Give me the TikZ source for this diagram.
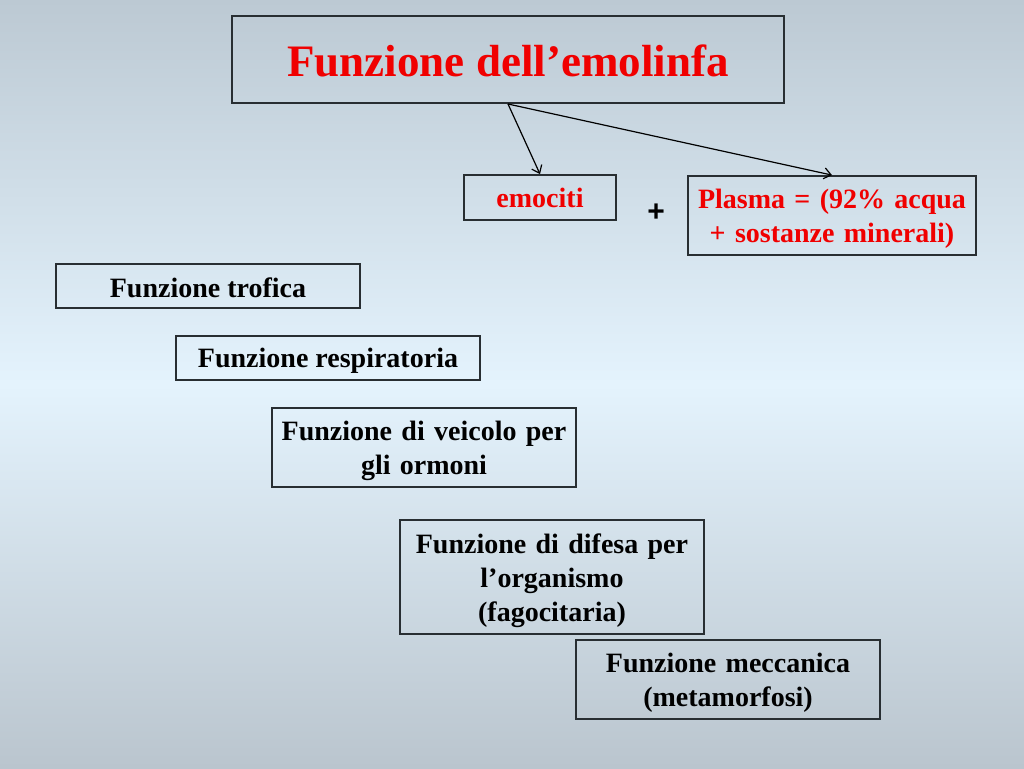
\documentclass[tikz,border=0pt]{standalone}
\usepackage{fontspec}
\usetikzlibrary{arrows.meta}
\setmainfont{Liberation Serif}
\newfontfamily\plusfont{Liberation Sans}
\definecolor{bgtop}{RGB}{188,201,211}
\definecolor{bgmid}{RGB}{228,243,253}
\definecolor{bgbot}{RGB}{186,197,206}
\definecolor{frame}{RGB}{40,46,50}
\definecolor{tred}{RGB}{240,0,0}
\newcommand{\topfix}[1]{\rule{0pt}{#1pt}}
\tikzset{
  box/.style={draw=frame, line width=1.8pt, fill=none, align=center, inner sep=2pt,
    font=\fontsize{28}{34}\selectfont\bfseries},
  redtxt/.style={text=tred},
  arr/.style={draw=black, line width=1.2pt, -{Straight Barb[length=7pt,width=11pt]}},
}
\begin{document}
\begin{tikzpicture}[x=1pt,y=-1pt]
\begin{scope}[y=1pt]
\shade[top color=bgtop, bottom color=bgmid] (0,-384) rectangle (1024,0);
\shade[top color=bgmid, bottom color=bgbot] (0,-768) rectangle (1024,-384);
\end{scope}
\useasboundingbox (0,0) rectangle (1024,768);

\node[box, redtxt, minimum width=552pt, minimum height=87pt, font=\fontsize{45}{52}\selectfont\bfseries] (title) at (508,59.5) {\topfix{35}Funzione dell’emolinfa};
\node[box, redtxt, minimum width=152pt, minimum height=45pt] (emo) at (540,197.5) {\topfix{21}emociti};
\node[box, redtxt, minimum width=288pt, minimum height=79pt, text width=280pt] (pl) at (832,215.5) {\topfix{26}Plasma = (92\% acqua\\+ sostanze minerali)};
\node[font=\fontsize{30}{34}\selectfont\plusfont\bfseries] (plus) at (656,213) {+};

\node[box, minimum width=304pt, minimum height=44pt] (tro) at (208,286) {\topfix{23}Funzione trofica};
\node[box, minimum width=304pt, minimum height=44pt] (res) at (328,358) {\topfix{25}Funzione respiratoria};
\node[box, minimum width=304pt, minimum height=79pt, text width=296pt] (vei) at (424,447.5) {\topfix{27}Funzione di veicolo per\\gli ormoni};
\node[box, minimum width=304pt, minimum height=114pt, text width=296pt] (dif) at (552,577) {\topfix{27}Funzione di difesa per\\l’organismo\\(fagocitaria)};
\node[box, minimum width=304pt, minimum height=79pt, text width=296pt] (mec) at (728,679.5) {\topfix{25}Funzione meccanica\\(metamorfosi)};

\coordinate (src) at (508,104);
\draw[arr] (src) -- (emo.north);
\draw[arr] (src) -- (pl.north);
\end{tikzpicture}
\end{document}
